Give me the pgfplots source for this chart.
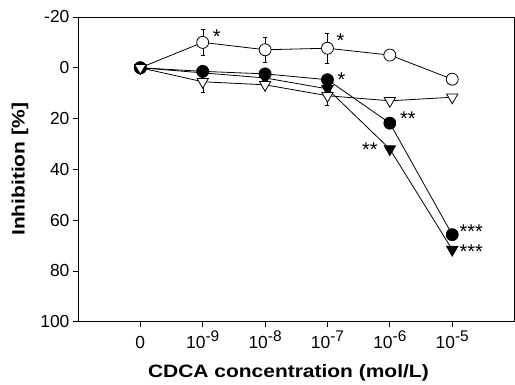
\documentclass[border=0pt]{standalone}
\usepackage{fontspec}
\setmainfont{Liberation Sans}
\usepackage{graphicx}
\usepackage{pgfplots}
\pgfplotsset{compat=1.18}
% tick label for powers of ten
\newcommand{\tk}[1]{10\raisebox{7.5bp}{\fontsize{15.5}{16}\selectfont -#1}}
\tikzset{sig/.style={font=\fontsize{20}{20}\selectfont, anchor=base, inner sep=0pt}}
\begin{document}
\begin{tikzpicture}
\begin{axis}[name=ax,
  scale only axis, width=437bp, height=305bp,
  xmin=-1, xmax=6, ymin=-20, ymax=100, y dir=reverse,
  xtick={0,...,5},
  xticklabels={0,\tk{9},\tk{8},\tk{7},\tk{6},\tk{5}},
  ytick={-20,0,20,40,60,80,100},
  tick align=outside, tick pos=left, major tick length=5bp,
  axis line style={line width=0.8bp},
  tick style={line width=0.8bp, black},
  ticklabel style={font=\fontsize{17.5}{18}\selectfont},
  x tick label style={anchor=base, yshift=-22bp},
  /pgf/number format/assume math mode=true,
  xlabel={\scalebox{1.17}[1]{CDCA concentration (mol/L)}},
  ylabel={\scalebox{1.17}[1]{Inhibition [\%]}},
  label style={font=\bfseries\fontsize{18}{20}\selectfont},
  xlabel style={at={(axis description cs:0.482,-0.1836)}, anchor=base},
  ylabel style={at={(axis description cs:-0.1327,0.5)}, anchor=center},
  clip=false,
  every axis plot/.append style={black, line width=0.8bp},
  error bars/error mark options={mark size=2bp, line width=0.8bp, rotate=90},
]
% open circles
\addplot[mark=*, mark size=6bp, mark options={fill=white, draw=black},
  error bars/.cd, y dir=both, y explicit]
  coordinates {(0,0) +- (0,0) (1,-10) +- (0,5.3) (2,-7.1) +- (0,5)
               (3,-7.7) +- (0,6) (4,-5) +- (0,0) (5,4.5) +- (0,0)};
% filled triangles
\addplot[mark=triangle*, mark size=6.5bp, mark options={fill=black, rotate=180}]
  coordinates {(0,0) (1,2) (2,4) (3,8.3) (4,32) (5,71.6)};
% filled circles
\addplot[mark=*, mark size=6bp, mark options={fill=black}]
  coordinates {(0,0) (1,1.4) (2,2.4) (3,4.7) (4,21.8) (5,65.7)};
% open triangles
\addplot[mark=triangle*, mark size=6.5bp, mark options={fill=white, draw=black, rotate=180},
  error bars/.cd, y dir=both, y explicit]
  coordinates {(0,0) +- (0,0) (1,5.5) +- (0,4) (2,6.7) +- (0,0)
               (3,11) +- (0,4) (4,13) +- (0,0) (5,11.6) +- (0,0)};
% significance marks
\node[sig, xshift=14bp, yshift=-1.6bp] at (axis cs:1,-10) {*};
\node[sig, xshift=13bp, yshift=0.4bp] at (axis cs:3,-7.7) {*};
\node[sig, xshift=14bp, yshift=-6.6bp] at (axis cs:3,4.7) {*};
\node[sig, xshift=18bp, yshift=-2.6bp] at (axis cs:4,21.8) {**};
\node[sig, xshift=-20bp, yshift=-7.6bp] at (axis cs:4,32) {**};
\node[sig, xshift=19bp, yshift=-3.6bp] at (axis cs:5,65.7) {***};
\node[sig, xshift=19bp, yshift=-8.6bp] at (axis cs:5,71.6) {***};
\end{axis}
\path (ax.south west) ++(-78bp,-63bp);
\path (ax.north east) ++(0bp,17bp);
\end{tikzpicture}
\end{document}
